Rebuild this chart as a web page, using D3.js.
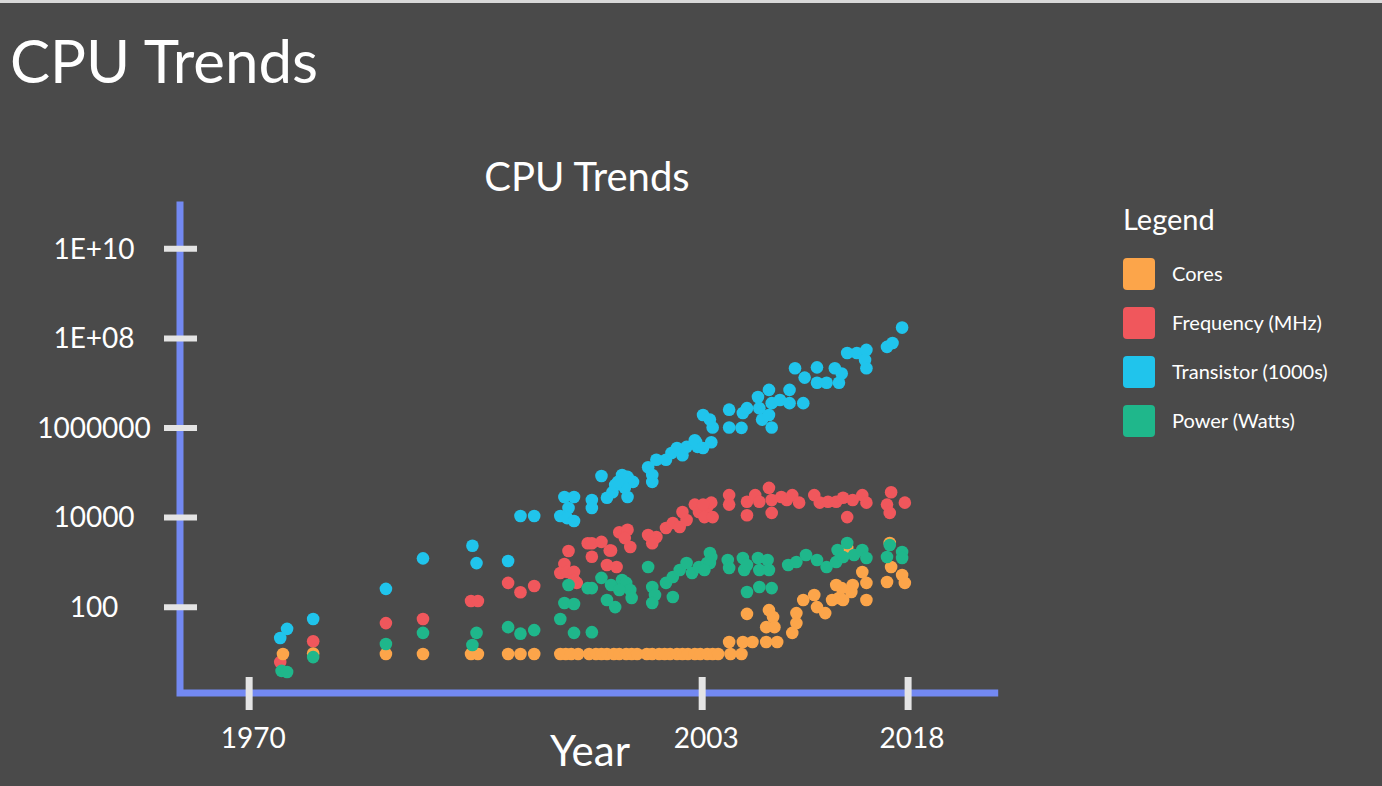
<!DOCTYPE html>
<html>
<head>
<meta charset="utf-8">
<script src="https://cdn.jsdelivr.net/npm/d3@7"></script>
<style>
  html, body { margin: 0; padding: 0; background: #4a4a4a; }
  svg { display: block; font-family: Lato, "Open Sans", sans-serif; }
</style>
</head>
<body>
<svg id="chart" width="1382" height="786"></svg>
<script>
// Series: [year, value]
const cores = [
  [1972.5, 8.8], [1974.7, 9], [1980.0, 8.8], [1982.7, 8.8], [1986.2, 8.8], [1986.7, 8.8],
  [1988.9, 8.8], [1989.8, 8.8], [1990.8, 8.8],
  [1992.7, 8.8], [1993.1, 8.8], [1993.5, 8.8], [1994.0, 8.8],
  [1994.8, 8.8], [1995.3, 8.8], [1995.7, 8.8], [1996.1, 8.8], [1996.6, 8.8], [1997.0, 8.8],
  [1997.5, 8.8], [1997.9, 8.8], [1998.3, 8.8],
  [1999.0, 8.8], [1999.4, 8.8], [1999.9, 8.8], [2000.3, 8.8], [2000.7, 8.8], [2001.2, 8.8],
  [2001.6, 8.8], [2002.0, 8.8], [2002.5, 8.8], [2002.9, 8.8], [2003.4, 8.8], [2003.8, 8.8],
  [2004.2, 8.8], [2005.1, 8.8], [2005.9, 8.8],
  [2005.0, 16.3], [2006.0, 16.3], [2006.7, 16.3], [2007.7, 16.3], [2008.5, 16.3],
  [2006.3, 69], [2007.9, 84], [2008.2, 59], [2007.7, 35], [2008.3, 35],
  [2009.9, 72], [2009.9, 43], [2009.6, 26], [2010.4, 141], [2011.2, 182], [2011.4, 98],
  [2012.0, 72], [2012.5, 141], [2012.8, 305], [2013.0, 156], [2013.9, 213], [2014.0, 305],
  [2014.7, 595], [2015.0, 340], [2015.0, 141], [2013.2, 260], [2013.3, 141], [2013.6, 2040],
  [2016.8, 770], [2016.5, 355], [2017.6, 510], [2017.8, 340], [2016.7, 2640]
];

const frequency = [
  [1972.3, 5.8], [1974.7, 17], [1980.0, 43], [1982.7, 53], [1986.2, 134], [1986.7, 134],
  [1988.9, 340], [1989.8, 210], [1990.8, 290],
  [1993.3, 1750], [1993.0, 900], [1992.7, 565], [1993.2, 600], [1993.7, 600], [1993.7, 395],
  [1993.9, 340], [1994.7, 2600], [1995.0, 2600], [1995.7, 2800], [1996.4, 1800], [1997.0, 4600],
  [1997.6, 5200], [1997.8, 2150], [1997.4, 3400], [1995.0, 1300], [1996.1, 850], [1996.8, 770],
  [1996.3, 1800],
  [1999.1, 4000], [1999.7, 3600], [1999.4, 2600], [2000.4, 5700], [2000.9, 7400], [2001.4, 6000],
  [2001.9, 8600], [2002.5, 19000], [2002.8, 13000], [2003.4, 17000], [2003.7, 21000],
  [2003.2, 10000], [2003.8, 10000], [2001.6, 13000], [2003.1, 19000],
  [2005.0, 31000], [2005.0, 19000], [2006.3, 22000], [2006.3, 11000], [2006.9, 31000],
  [2007.2, 22000], [2007.9, 45000], [2008.1, 24000], [2008.1, 12400], [2008.8, 28000],
  [2009.2, 24000], [2009.6, 31000], [2010.1, 21000], [2011.2, 31000], [2011.6, 21000],
  [2012.2, 22000], [2012.8, 22000], [2013.6, 10000], [2014.0, 24000], [2014.7, 31000],
  [2015.0, 21000], [2013.3, 27000],
  [2016.8, 36000], [2016.5, 19000], [2016.7, 12400], [2017.8, 21000]
];

const transistors = [
  [1972.3, 20], [1972.8, 32], [1974.7, 53], [1980.0, 250], [1982.7, 1200], [1986.3, 2300],
  [1986.6, 940], [1988.9, 1050], [1989.8, 10600], [1990.8, 10600],
  [1993.0, 28000], [1993.7, 28000], [1993.3, 16000], [1992.7, 10600], [1993.2, 9500],
  [1993.7, 8200], [1995.0, 24000], [1995.0, 16000], [1995.7, 83000], [1996.1, 27000],
  [1996.5, 36000], [1996.7, 52000], [1997.2, 87000], [1997.6, 79000], [1998.0, 61000],
  [1997.4, 45000], [1997.6, 28000], [1996.9, 61000],
  [1999.1, 1.3e5], [1999.4, 6.1e4], [1999.4, 8.7e4], [1999.7, 1.9e5], [2000.4, 1.9e5],
  [2000.8, 2.7e5], [2001.2, 3.5e5], [2001.6, 2.4e5], [2001.9, 3.7e5], [2002.5, 5.2e5],
  [2002.7, 3.7e5], [2003.7, 4.7e5], [2003.1, 1.9e6], [2003.8, 1.0e6], [2003.6, 1.5e6],
  [2002.6, 4.7e5], [2003.1, 3.5e5],
  [2005.0, 2.5e6], [2005.0, 1.0e6], [2005.9, 9.8e5], [2006.0, 2.1e6], [2006.3, 2.7e6],
  [2007.1, 4.8e6], [2007.2, 2.7e6], [2007.4, 1.5e6], [2007.9, 6.9e6], [2008.1, 3.5e6],
  [2007.9, 1.9e6], [2008.1, 1.0e6], [2008.7, 4.1e6], [2009.4, 3.5e6], [2009.4, 6.9e6],
  [2010.4, 3.5e6], [2009.8, 2.1e7], [2010.5, 1.3e7], [2011.4, 2.2e7], [2011.4, 1.0e7],
  [2012.1, 1.0e7], [2012.7, 2.1e7], [2013.0, 1.0e7], [2013.6, 4.6e7], [2014.3, 4.6e7],
  [2015.0, 5.4e7], [2014.9, 3.2e7], [2015.0, 2.1e7], [2013.2, 1.6e7],
  [2016.5, 6.3e7], [2016.9, 7.7e7], [2017.6, 1.7e8]
];

const power = [
  [1972.4, 3.7], [1972.8, 3.5], [1974.7, 7.5], [1980.0, 14.7], [1982.7, 26], [1986.6, 26],
  [1986.3, 14], [1988.9, 35], [1989.8, 25], [1990.8, 30],
  [1993.3, 305], [1993.0, 121], [1993.7, 115], [1992.7, 53], [1993.7, 26], [1995.0, 27],
  [1994.7, 260], [1995.0, 260], [1995.7, 440], [1996.1, 141], [1996.7, 98], [1996.4, 305],
  [1997.2, 395], [1997.5, 340], [1997.8, 236], [1997.9, 156], [1997.0, 236],
  [1999.1, 770], [1999.4, 275], [1999.6, 182], [1999.4, 121], [2000.4, 340], [2000.9, 460],
  [2001.4, 660], [2001.9, 945], [2002.3, 565], [2002.8, 770], [2003.4, 945], [2003.7, 1290],
  [2000.9, 165], [2003.6, 1580], [2003.6, 945], [2003.2, 660],
  [2004.9, 1100], [2005.0, 730], [2006.0, 1220], [2006.1, 660], [2006.3, 850], [2007.1, 1220],
  [2007.2, 660], [2007.8, 1100], [2007.9, 660], [2009.3, 850], [2009.9, 995], [2010.6, 1430],
  [2011.4, 1100], [2012.1, 770], [2012.8, 995], [2012.9, 1850], [2013.6, 2640], [2014.1, 1430],
  [2014.7, 1850], [2015.0, 1220], [2013.3, 1290],
  [2016.7, 2380], [2016.5, 1290], [2017.6, 1660], [2017.6, 1220],
  [2006.3, 213], [2007.2, 275], [2008.1, 260]
];

const seriesNames = ["Cores", "Frequency (MHz)", "Transistor (1000s)", "Power (Watts)"];
const seriesColors = ["#fca54a", "#f0575c", "#20c4ec", "#1fb78b"];
const yTickValues = [100, 1e4, 1e6, 1e8, 1e10];
const yTickLabels = ["100", "10000", "1000000", "1E+08", "1E+10"];
const xTickValues = [1970, 2003, 2018];

const svg = d3.select("#chart");
const W = 1382, H = 786;

svg.append("rect").attr("width", W).attr("height", H).attr("fill", "#4a4a4a");
svg.append("rect").attr("width", W).attr("height", 3).attr("fill", "#d9d9d9");

// Page heading and chart title
svg.append("text").attr("x", 10).attr("y", 83)
  .attr("fill", "#ffffff").attr("font-size", 60).text("CPU Trends");
svg.append("text").attr("x", 587).attr("y", 191).attr("text-anchor", "middle")
  .attr("fill", "#ffffff").attr("font-size", 40).text("CPU Trends");

// Scales
const x = d3.scaleLinear().domain([1965, 2025]).range([180, 1003.7]);
const y = d3.scaleLog().domain([1, 1e11]).range([696.3, 203.5]);

const axisColor = "#7389f2";
const tickColor = "#e4e4e4";
const axisX = 180, axisY = 693;

// Axis lines
svg.append("path")
  .attr("d", `M${axisX},${y(1e11) - 2} V${axisY} H${x(2024.6)}`)
  .attr("fill", "none").attr("stroke", axisColor).attr("stroke-width", 7);

// Y axis ticks and labels
const yAxis = d3.axisLeft(y).tickValues(yTickValues)
  .tickFormat((d, i) => yTickLabels[i]).tickSize(0).tickPadding(0);
const gy = svg.append("g").attr("transform", `translate(${axisX},0)`).call(yAxis);
gy.select(".domain").remove();
gy.selectAll(".tick line").attr("x1", -16).attr("x2", 17)
  .attr("stroke", tickColor).attr("stroke-width", 6);
gy.selectAll(".tick text").attr("x", -86).attr("dy", "0.35em")
  .attr("text-anchor", "middle").attr("fill", "#ffffff")
  .attr("font-size", 28).attr("font-family", "Lato, sans-serif");

// X axis ticks and labels
const xAxis = d3.axisBottom(x).tickValues(xTickValues).tickFormat(d3.format("d"))
  .tickSize(0).tickPadding(0);
const gx = svg.append("g").attr("transform", `translate(0,${axisY})`).call(xAxis);
gx.select(".domain").remove();
gx.selectAll(".tick line").attr("y1", -16).attr("y2", 17)
  .attr("stroke", tickColor).attr("stroke-width", 7);
gx.selectAll(".tick text").attr("y", 45).attr("dy", "0.35em").attr("dx", 4)
  .attr("text-anchor", "middle").attr("fill", "#ffffff")
  .attr("font-size", 28).attr("font-family", "Lato, sans-serif");

svg.append("text").attr("x", 590).attr("y", 766).attr("text-anchor", "middle")
  .attr("fill", "#ffffff").attr("font-size", 42).text("Year");

// Dots, back to front
const layers = [
  { data: frequency, color: seriesColors[1] },
  { data: cores, color: seriesColors[0] },
  { data: transistors, color: seriesColors[2] },
  { data: power, color: seriesColors[3] }
];
layers.forEach(layer => {
  svg.append("g").selectAll("circle").data(layer.data).join("circle")
    .attr("cx", d => x(d[0])).attr("cy", d => y(d[1])).attr("r", 6.3)
    .attr("fill", layer.color);
});

// Legend
const legend = svg.append("g").attr("transform", "translate(1123,0)");
legend.append("text").attr("x", 0).attr("y", 230).attr("fill", "#ffffff")
  .attr("font-size", 29).text("Legend");
seriesNames.forEach((name, i) => {
  const cy = 274 + i * 49;
  legend.append("rect").attr("x", 0).attr("y", cy - 16).attr("width", 32).attr("height", 32)
    .attr("rx", 4).attr("fill", seriesColors[i]);
  legend.append("text").attr("x", 49).attr("y", cy).attr("dy", "0.35em")
    .attr("fill", "#ffffff").attr("font-size", 20).text(name);
});
</script>
</body>
</html>
